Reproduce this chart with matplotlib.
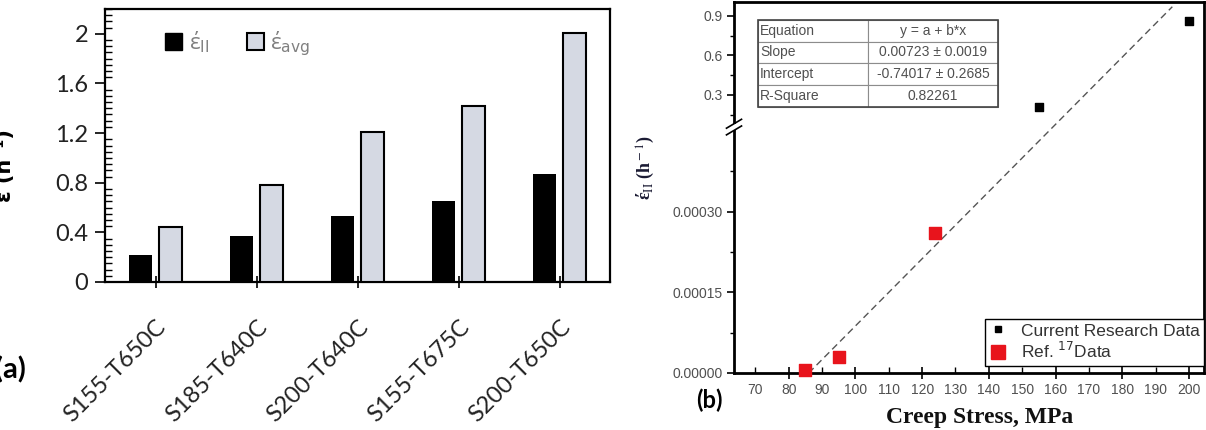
import numpy as np
import matplotlib.pyplot as plt
from matplotlib.patches import Patch, Rectangle
from matplotlib.lines import Line2D
from matplotlib.ticker import FixedLocator, MultipleLocator, NullFormatter

# (a) strain rates per test condition
conditions = ["S155-T650C", "S185-T640C", "S200-T640C", "S155-T675C", "S200-T650C"]
rate_ii = [0.22, 0.37, 0.53, 0.65, 0.87]
rate_avg = [0.44, 0.78, 1.21, 1.42, 2.01]

# (b) rate vs creep stress
stress_current = [155, 200]
rate_current = [0.21, 0.86]
stress_ref = [85, 95, 124]
rate_ref = [0.000005, 0.00003, 0.00026]
fit_x = [86, 195]
fit_y = [0.0, 0.97]

table_rows = [["Equation", "y = a + b*x"],
              ["Slope", "0.00723 \u00b1 0.0019"],
              ["Intercept", "-0.74017 \u00b1 0.2685"],
              ["R-Square", "0.82261"]]

W, H = 1206, 430
fig = plt.figure(figsize=(W / 100, H / 100), dpi=100)

# ---------------- panel (a) ----------------
ax1 = fig.add_axes([105 / W, 1 - 282 / H, (610 - 105) / W, (282 - 9) / H])
x = np.arange(len(conditions))
ax1.bar(x - 0.145, rate_ii, width=0.23, color="black", zorder=3)
ax1.bar(x + 0.145, rate_avg, width=0.23, color="#d5d9e3", edgecolor="black",
        linewidth=1.5, zorder=3)
ax1.set_xlim(-0.5, 4.5)
ax1.set_ylim(0, 2.2)
ax1.set_xticks(x)
ax1.set_xticklabels(conditions, rotation=45, ha="right", rotation_mode="anchor",
                    family="Lato", fontsize=17, color="#222222")
ax1.set_yticks([0, 0.4, 0.8, 1.2, 1.6, 2.0])
ax1.set_yticklabels(["0", "0.4", "0.8", "1.2", "1.6", "2"], family="Lato",
                    fontsize=17, color="#222222")
ax1.yaxis.set_minor_locator(MultipleLocator(0.05))
ax1.tick_params(axis="y", which="major", direction="out", length=7, width=1.2, pad=5)
ax1.tick_params(axis="y", which="minor", direction="in", length=5, width=1.0)
ax1.tick_params(axis="x", which="major", direction="inout", length=9, width=1.2, pad=20)
for s in ax1.spines.values():
    s.set_linewidth(1.6)

leg1 = ax1.legend([Patch(facecolor="black", edgecolor="black"),
                   Patch(facecolor="#d5d9e3", edgecolor="black", linewidth=1.5)],
                  ["\u03ad$_{\\rm II}$", "\u03ad$_{\\rm avg}$"],
                  ncol=2, frameon=False, loc="upper left",
                  bbox_to_anchor=(0.08, 1.0), handlelength=0.75, handleheight=0.75,
                  handletextpad=0.3, columnspacing=1.7,
                  prop={"family": ["Open Sans", "DejaVu Sans"], "size": 16})
for t in leg1.get_texts():
    t.set_color("#808080")

fig.text(15 / W, 1 - 166 / H, "\u03b5\u0307 (h\u207b\u00b9)", rotation=90, ha="right",
         va="center", fontsize=15, fontweight="bold", family="DejaVu Sans")
fig.text(-5 / W, 1 - 370 / H, "(a)", ha="left", va="center", fontsize=21,
         fontweight="bold", family="Lato")

# ---------------- panel (b) ----------------
# broken y axis: lower segment 0..b1, upper segment b2..top
b1, b2, ytop = 0.000457, 0.057, 1.006
k1 = 246.0 / b1
k2 = 125.0 / (ytop - b2)
gap = 0.5


def fwd(y):
    y = np.asarray(y, dtype=float)
    return np.where(y <= b1, y * k1,
                    np.where(y <= b2, 246.0 + (y - b1) * gap / (b2 - b1),
                             246.0 + gap + (y - b2) * k2))


def inv(v):
    v = np.asarray(v, dtype=float)
    return np.where(v <= 246.0, v / k1,
                    np.where(v <= 246.0 + gap, b1 + (v - 246.0) * (b2 - b1) / gap,
                             b2 + (v - 246.0 - gap) / k2))


ax2 = fig.add_axes([734 / W, 1 - 373 / H, (1204 - 734) / W, (373 - 2) / H])
ax2.set_yscale("function", functions=(fwd, inv))
ax2.set_xlim(63.6, 204.5)
ax2.set_ylim(0, ytop)

ax2.plot(fit_x, fit_y, color="#555555", linestyle=(0, (5, 3)), linewidth=1.0, zorder=2)
ax2.scatter(stress_current, rate_current, marker="s", s=40, color="black", zorder=4,
            clip_on=False)
ax2.scatter(stress_ref, rate_ref, marker="s", s=70, color="#e8141c", zorder=4,
            clip_on=False)

ax2.yaxis.set_major_locator(FixedLocator([0, 0.00015, 0.0003, 0.3, 0.6, 0.9]))
ax2.set_yticklabels(["0.00000", "0.00015", "0.00030", "0.3", "0.6", "0.9"])
ax2.yaxis.set_minor_locator(FixedLocator([0.000075, 0.000225, 0.000375, 0.15, 0.45, 0.75]))
ax2.yaxis.set_minor_formatter(NullFormatter())

ax2.set_xticks(np.arange(80, 201, 20))
ax2.set_xticks(np.arange(70, 191, 20), minor=True)
ax2.set_xticklabels([str(v) for v in range(80, 201, 20)])
ax2.set_xticklabels([str(v) for v in range(70, 191, 20)], minor=True)
for lab in ax2.get_xticklabels(which="both") + ax2.get_yticklabels():
    lab.set_family("Liberation Sans")
    lab.set_fontsize(10)
    lab.set_color("#505050")
ax2.tick_params(axis="x", which="major", direction="inout", length=9, width=1.2, pad=3)
ax2.tick_params(axis="x", which="minor", direction="in", length=4, width=1.0, pad=7.5)
ax2.tick_params(axis="y", which="major", direction="out", length=5, width=1.2, pad=3)
ax2.tick_params(axis="y", which="minor", direction="out", length=3, width=1.0)
for s in ax2.spines.values():
    s.set_linewidth(2.0)

# break marks on the left spine
yb = float(fwd(b1 + (b2 - b1) / 2) / fwd(ytop))
ax2.add_patch(Rectangle((-0.02, yb - 0.008), 0.04, 0.016, transform=ax2.transAxes,
                        facecolor="white", edgecolor="none", clip_on=False, zorder=10))
for dy in (-0.009, 0.009):
    ax2.add_line(Line2D([-0.016, 0.016], [yb + dy - 0.012, yb + dy + 0.012],
                        transform=ax2.transAxes, color="black", linewidth=1.2,
                        clip_on=False, zorder=11))

tab = ax2.table(cellText=table_rows, colWidths=[0.46, 0.54],
                bbox=[0.051, 0.718, 0.51, 0.234])
tab.auto_set_font_size(False)
for (r, c), cell in tab.get_celld().items():
    cell.set_edgecolor("#8c8c8c")
    cell.set_linewidth(0.8)
    cell.get_text().set_fontsize(10)
    cell.get_text().set_color("#505050")
    cell.get_text().set_family("Liberation Sans")
    cell.set_text_props(ha="left" if c == 0 else "center")
    if c == 0:
        cell.PAD = 0.02
ax2.add_patch(Rectangle((0.051, 0.718), 0.51, 0.234, transform=ax2.transAxes,
                        facecolor="none", edgecolor="#444444", linewidth=1.2, zorder=6))

leg2 = ax2.legend([Line2D([], [], marker="s", linestyle="none", color="black", markersize=5),
                   Line2D([], [], marker="s", linestyle="none", color="#e8141c", markersize=10)],
                  ["Current Research Data", "Ref. $^{17}$Data"],
                  loc="lower right", bbox_to_anchor=(1.0, 0.02), borderaxespad=0,
                  fancybox=False, framealpha=1, edgecolor="black", handlelength=1.0,
                  handletextpad=0.8, borderpad=0.25, labelspacing=0.15,
                  prop={"family": "Liberation Sans", "size": 12.5})
leg2.get_frame().set_linewidth(1.0)
for t in leg2.get_texts():
    t.set_color("#333333")

fig.text(646 / W, 1 - 168 / H, "\u03ad$_{\\rm II}$ (h$^{\\rm -1}$)", rotation=90, ha="center",
         va="center", fontsize=13, fontweight="bold", family="Liberation Serif",
         math_fontfamily="stix", color="#1a1a33")
fig.text(980 / W, 1 - 418 / H, "Creep Stress, MPa", ha="center", va="center",
         fontsize=17, fontweight="bold", family="Liberation Serif", color="#111111")
fig.text(709 / W, 1 - 400 / H, "(b)", ha="center", va="center", fontsize=17,
         fontweight="bold", family="Lato")

fig.savefig("out.png", dpi=100)
